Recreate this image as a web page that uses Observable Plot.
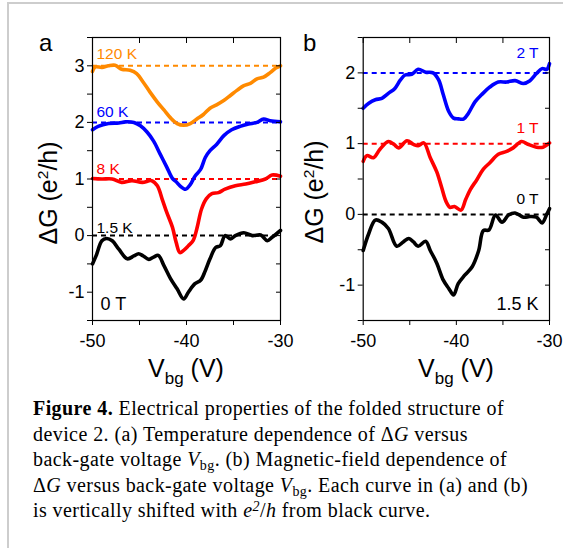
<!DOCTYPE html>
<html><head><meta charset="utf-8">
<script src="https://cdn.jsdelivr.net/npm/d3@7"></script>
<script src="https://cdn.jsdelivr.net/npm/@observablehq/plot@0.6"></script>
<style>
html,body{margin:0;padding:0;background:#fff;}
body{width:563px;height:548px;overflow:hidden;position:relative;font-family:"Liberation Sans",Arial,sans-serif;color:#000;}
#border{position:absolute;left:7px;top:2px;width:600px;height:600px;border-left:2px solid #cdcdcd;border-top:2px solid #cdcdcd;}
.abs{position:absolute;white-space:nowrap;}
.ytitle{font-size:25px;line-height:1;transform:translate(-50%,-50%) rotate(-90deg);}
.ytitle sup{font-size:0.62em;vertical-align:0.55em;line-height:0;}
.xtitle{font-size:25px;line-height:1;transform:translateX(-50%);}
.xtitle sub{font-size:0.68em;vertical-align:-0.42em;line-height:0;}
.panel{font-size:24px;line-height:1;}
#caption{left:33px;top:396px;font-family:"Liberation Serif","Times New Roman",serif;font-size:20px;letter-spacing:0.42px;line-height:25.6px;}
#caption i sub{font-size:0.7em;vertical-align:-0.25em;line-height:0;font-style:normal;}
#caption i sup{font-size:0.7em;vertical-align:0.45em;line-height:0;}
svg{position:absolute;top:0;}
</style>
</head><body>
<div id="border"></div>
<div id="root"></div>
<script>
// ---------- data ----------
const xTicks = [-50, -45, -40, -35, -30];
const xTickLabels = [-50, -40, -30];
const yTicksA = [-1.5, -1, -0.5, 0, 0.5, 1, 1.5, 2, 2.5, 3, 3.5];
const yTicksB = [-1.5, -1, -0.5, 0, 0.5, 1, 1.5, 2, 2.5];

// panel a : temperature dependence (0 T)
const a120K = [[-50,2.90],[-49.7,2.98],[-49.0,2.97],[-48.3,3.0],[-47.6,3.01],[-46.9,2.94],[-46.0,2.92],[-45.3,2.86],[-44.6,2.71],[-43.9,2.54],[-43.1,2.36],[-42.4,2.22],[-41.7,2.08],[-41.0,1.98],[-40.3,1.95],[-39.6,1.98],[-38.9,2.06],[-38.2,2.14],[-37.5,2.25],[-36.8,2.31],[-36.0,2.39],[-35.3,2.48],[-34.6,2.57],[-33.9,2.65],[-33.2,2.69],[-32.5,2.77],[-31.8,2.80],[-31.1,2.88],[-30.5,2.96],[-30,3.0]];
const a60K = [[-50,1.87],[-49.4,1.93],[-48.3,1.98],[-47.2,1.99],[-46.5,2.01],[-45.6,2.0],[-44.9,1.94],[-44.2,1.83],[-43.5,1.67],[-42.8,1.44],[-42.1,1.21],[-41.5,1.01],[-41.1,0.95],[-40.7,0.88],[-40.1,0.82],[-39.6,0.90],[-39.1,1.05],[-38.5,1.17],[-38.0,1.38],[-37.5,1.50],[-36.8,1.61],[-36.0,1.77],[-35.2,1.87],[-34.3,1.93],[-33.4,1.97],[-32.5,2.0],[-31.8,2.06],[-31.1,2.03],[-30,2.01]];
const a8K = [[-50,1.01],[-49,1.0],[-47.9,1.0],[-46.9,0.94],[-45.8,0.97],[-44.7,0.94],[-43.7,0.97],[-43.1,0.88],[-42.6,0.65],[-42.1,0.41],[-41.5,0.15],[-41.1,-0.12],[-40.7,-0.30],[-40.3,-0.26],[-39.8,-0.18],[-39.3,-0.09],[-38.9,0.12],[-38.4,0.47],[-37.9,0.65],[-37.3,0.74],[-36.6,0.76],[-35.9,0.82],[-34.8,0.88],[-33.7,0.91],[-32.7,0.95],[-31.6,1.0],[-30.9,1.07],[-30,1.05]];
const a15K = [[-50,-0.5],[-49.6,-0.35],[-49.0,-0.09],[-48.5,-0.05],[-47.9,-0.09],[-47.2,-0.24],[-46.3,-0.41],[-45.6,-0.36],[-45.1,-0.32],[-44.6,-0.36],[-44.0,-0.42],[-43.5,-0.38],[-43.0,-0.35],[-42.4,-0.53],[-41.7,-0.76],[-41.0,-0.94],[-40.3,-1.12],[-39.8,-1.0],[-39.1,-0.85],[-38.5,-0.79],[-38.0,-0.62],[-37.5,-0.41],[-36.9,-0.21],[-36.4,-0.18],[-35.9,0],[-35.3,-0.06],[-34.8,0.0],[-33.9,0.05],[-33.0,0.0],[-32.1,0.01],[-31.4,-0.09],[-30.9,-0.03],[-30,0.09]];

// panel b : magnetic-field dependence (1.5 K)
const b2T = [[-50,1.50],[-49.4,1.57],[-48.7,1.62],[-48.0,1.64],[-47.3,1.71],[-46.6,1.78],[-46.0,1.90],[-45.5,1.97],[-44.8,1.98],[-44.1,2.05],[-43.3,2.01],[-42.5,2.0],[-41.9,1.90],[-41.4,1.69],[-40.8,1.45],[-40.3,1.36],[-39.8,1.35],[-39.2,1.35],[-38.7,1.43],[-38.0,1.59],[-37.3,1.69],[-36.4,1.80],[-35.5,1.87],[-34.6,1.87],[-33.7,1.89],[-32.8,1.85],[-32.1,1.89],[-31.4,1.99],[-30.8,2.06],[-30.3,2.05],[-30,2.13]];
const b1T = [[-50,0.75],[-49.6,0.83],[-48.9,0.80],[-48.2,0.92],[-47.3,1.03],[-46.7,0.99],[-46.2,0.94],[-45.3,1.04],[-44.6,0.99],[-44.1,0.97],[-43.5,1.01],[-42.8,0.80],[-42.1,0.60],[-41.6,0.39],[-41.1,0.18],[-40.7,0.10],[-40.2,0.11],[-39.5,0.06],[-39.0,0.21],[-38.5,0.35],[-37.8,0.49],[-37.1,0.64],[-36.4,0.73],[-35.5,0.85],[-34.6,0.89],[-33.9,0.94],[-33.0,1.03],[-32.3,0.99],[-31.4,0.95],[-30.7,0.95],[-30,1.01]];
const b0T = [[-50,-0.51],[-49.4,-0.27],[-48.7,-0.08],[-48.0,-0.11],[-47.3,-0.20],[-46.4,-0.45],[-45.7,-0.39],[-45.1,-0.34],[-44.6,-0.39],[-44.1,-0.45],[-43.3,-0.38],[-42.8,-0.51],[-42.1,-0.69],[-41.4,-0.93],[-40.8,-1.05],[-40.3,-1.14],[-39.8,-0.98],[-39.1,-0.86],[-38.3,-0.74],[-37.6,-0.51],[-37.1,-0.23],[-36.5,-0.22],[-35.8,-0.01],[-35.1,-0.11],[-34.4,-0.01],[-33.7,0.02],[-32.8,-0.04],[-32.1,-0.03],[-31.4,-0.04],[-30.8,-0.12],[-30.3,0],[-30,0.08]];

const namesA = ["120 K", "60 K", "8 K", "1.5 K"];
const colorsA = ["#ff8a00", "#0000ff", "#ff0000", "#000000"];
const offsetsA = [3, 2, 1, 0];
const curvesA = [a120K, a60K, a8K, a15K];

const namesB = ["2 T", "1 T", "0 T"];
const colorsB = ["#0000ff", "#ff0000", "#000000"];
const offsetsB = [2, 1, 0];
const curvesB = [b2T, b1T, b0T];

// ---------- build tables ----------
function table(names, colors, curves) {
  return curves.flatMap((c, i) => c.map(([x, y]) => ({name: names[i], color: colors[i], x, y})));
}
function refs(names, colors, offsets) {
  return offsets.map((y, i) => ({name: names[i], color: colors[i], y}));
}
const dataA = table(namesA, colorsA, curvesA);
const dataB = table(namesB, colorsB, curvesB);
const refA = refs(namesA, colorsA, offsetsA);
const refB = refs(namesB, colorsB, offsetsB);

const font = "'Liberation Sans', Arial, sans-serif";

function panel({width, marginLeft, marginRight, yDomain, yTicks, data, ref, labelAnchor, labelDx, labelDys, cornerText, cornerAnchor, cornerDx}) {
  const labelMarks = ref.map((r, i) => Plot.text([r], {
    x: labelAnchor === "start" ? -50 : -30, y: "y", text: "name", fill: "color",
    textAnchor: labelAnchor, dx: labelDx, dy: labelDys[i], fontSize: 15.5
  }));
  return Plot.plot({
    width, height: 360,
    marginLeft, marginRight, marginTop: 37, marginBottom: 40,
    x: {domain: [-50, -30]},
    y: {domain: yDomain},
    style: {fontFamily: font, fontSize: "18px", color: "#000", background: "transparent", overflow: "visible"},
    marks: [
      Plot.ruleY(ref, {y: "y", stroke: "color", strokeWidth: 2, strokeDasharray: "5,4"}),
      Plot.line(data, {x: "x", y: "y", z: "name", stroke: "color", strokeWidth: 3.6, curve: "catmull-rom", strokeLinejoin: "round"}),
      Plot.frame({stroke: "#000", strokeWidth: 1.2}),
      Plot.axisX({ticks: xTicks, tickSize: 5, tickPadding: 9, label: null, fontSize: 18,
                  tickFormat: d => xTickLabels.includes(d) ? String(d) : ""}),
      Plot.axisX({anchor: "top", ticks: xTicks, tickSize: 5, dy: 5, label: null, tickFormat: () => ""}),
      Plot.axisY({ticks: yTicks, tickSize: 5, tickPadding: 3, label: null, fontSize: 18,
                  tickFormat: d => Number.isInteger(d) ? String(d) : ""}),
      Plot.axisY({anchor: "right", ticks: yTicks, tickSize: 5, dx: -5, label: null, tickFormat: () => ""}),
      ...labelMarks,
      Plot.text([cornerText], {frameAnchor: cornerAnchor, text: d => d, dx: cornerDx, dy: -11, fontSize: 18})
    ]
  });
}

const plotA = panel({width: 290, marginLeft: 92, marginRight: 10, yDomain: [-1.5, 3.5], yTicks: yTicksA,
  data: dataA, ref: refA, labelAnchor: "start", labelDx: 4, labelDys: [-12, -10, -10, -8],
  cornerText: "0 T", cornerAnchor: "bottom-left", cornerDx: 8});
const plotB = panel({width: 283, marginLeft: 82.7, marginRight: 14, yDomain: [-1.5, 2.5], yTicks: yTicksB,
  data: dataB, ref: refB, labelAnchor: "end", labelDx: -11, labelDys: [-20, -16, -15],
  cornerText: "1.5 K", cornerAnchor: "bottom-right", cornerDx: -11});
plotA.style.left = "0px";
plotB.style.left = "280px";
const root = document.getElementById("root");
root.append(plotA, plotB);

// ---------- titles and caption (HTML text) ----------
root.insertAdjacentHTML("beforeend", `
<div class="abs panel" style="left:39px;top:31px">a</div>
<div class="abs panel" style="left:303px;top:31px">b</div>
<div class="abs ytitle" style="left:48px;top:193px">ΔG (e<sup>2</sup>/h)</div>
<div class="abs ytitle" style="left:314px;top:192px">ΔG (e<sup>2</sup>/h)</div>
<div class="abs xtitle" style="left:186px;top:356px">V<sub>bg</sub> (V)</div>
<div class="abs xtitle" style="left:456px;top:356px">V<sub>bg</sub> (V)</div>
<div class="abs" id="caption"><b>Figure 4.</b> Electrical properties of the folded structure of<br>device 2. (a) Temperature dependence of Δ<i>G</i> versus<br>back-gate voltage <i>V<sub>bg</sub></i>. (b) Magnetic-field dependence of<br>Δ<i>G</i> versus back-gate voltage <i>V<sub>bg</sub></i>. Each curve in (a) and (b)<br>is vertically shifted with <i>e<sup>2</sup></i>/<i>h</i> from black curve.</div>
`);
</script>
</body></html>
